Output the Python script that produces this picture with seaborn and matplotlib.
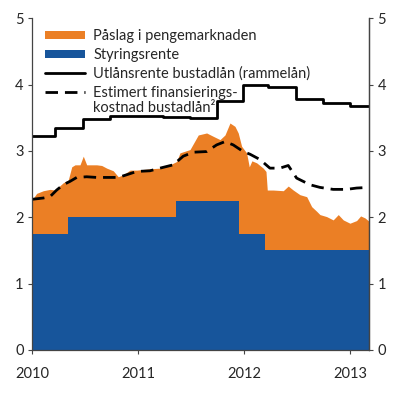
import matplotlib
matplotlib.use("Agg")
import matplotlib.pyplot as plt
import seaborn as sns
import numpy as np
import pandas as pd
from matplotlib.patches import Patch
from matplotlib.lines import Line2D

# ---- data (decimal years) ----
nibor_x = [2010.000, 2010.044, 2010.107, 2010.170, 2010.217, 2010.295, 2010.342, 2010.375,
           2010.406, 2010.453, 2010.484, 2010.516, 2010.563, 2010.610, 2010.658, 2010.705,
           2010.767, 2010.814, 2010.861, 2010.925, 2010.988, 2011.050, 2011.113, 2011.208,
           2011.302, 2011.365, 2011.396, 2011.491, 2011.569, 2011.648, 2011.710, 2011.774,
           2011.821, 2011.868, 2011.915, 2011.946, 2011.978, 2012.025, 2012.050, 2012.075,
           2012.120, 2012.182, 2012.208, 2012.220, 2012.276, 2012.371, 2012.418, 2012.465,
           2012.528, 2012.592, 2012.639, 2012.686, 2012.717, 2012.780, 2012.842, 2012.890,
           2012.937, 2013.000, 2013.063, 2013.101, 2013.142, 2013.180]
nibor_y = [2.26, 2.36, 2.40, 2.42, 2.41, 2.52, 2.56, 2.76,
           2.79, 2.79, 2.92, 2.79, 2.79, 2.79, 2.78, 2.74,
           2.70, 2.61, 2.64, 2.71, 2.71, 2.72, 2.73, 2.74,
           2.79, 2.84, 2.97, 3.02, 3.24, 3.27, 3.22, 3.17,
           3.24, 3.42, 3.37, 3.27, 3.07, 2.97, 2.76, 2.85,
           2.82, 2.74, 2.69, 2.41, 2.41, 2.40, 2.47, 2.41,
           2.34, 2.31, 2.16, 2.09, 2.04, 2.01, 1.96, 2.04,
           1.96, 1.91, 1.95, 2.02, 1.99, 1.94]

policy_x = [2010.00, 2010.34, 2011.36, 2011.95, 2012.20, 2013.18]
policy_y = [1.75, 2.00, 2.25, 1.75, 1.50, 1.50]

lending_x = [2010.000, 2010.217, 2010.484, 2010.736, 2010.988, 2011.236, 2011.490,
             2011.742, 2011.990, 2012.226, 2012.490, 2012.742, 2013.000, 2013.180]
lending_y = [3.22, 3.35, 3.48, 3.53, 3.52, 3.51, 3.50,
             3.745, 4.00, 3.97, 3.78, 3.72, 3.68, 3.68]

funding_x = [2010.000, 2010.107, 2010.170, 2010.233, 2010.295, 2010.358, 2010.422, 2010.516,
             2010.610, 2010.705, 2010.814, 2010.893, 2010.988, 2011.113, 2011.208, 2011.333,
             2011.427, 2011.522, 2011.648, 2011.742, 2011.821, 2011.899, 2011.993, 2012.057,
             2012.151, 2012.245, 2012.340, 2012.418, 2012.497, 2012.623, 2012.717, 2012.842,
             2012.969, 2013.063, 2013.180]
funding_y = [2.27, 2.29, 2.31, 2.41, 2.49, 2.54, 2.60, 2.61,
             2.60, 2.60, 2.60, 2.64, 2.69, 2.70, 2.74, 2.79,
             2.92, 2.98, 2.99, 3.09, 3.14, 3.09, 2.99, 2.95,
             2.87, 2.74, 2.74, 2.78, 2.59, 2.49, 2.45, 2.42,
             2.42, 2.44, 2.45]

year_ticks = [2010, 2011, 2012, 2013]
year_labels = ["2010", "2011", "2012", "2013"]
y_ticks = [0, 1, 2, 3, 4, 5]

labels = ["Påslag i pengemarknaden", "Styringsrente",
          "Utlånsrente bustadlån (rammelån)",
          "Estimert finansierings-"]
label_cont = "kostnad bustadlån\u00b2"

ORANGE = "#EB7F25"
BLUE = "#17559B"
SPINE = "#444444"

sns.set_theme(style="white")
plt.rcParams["font.family"] = ["Lato", "DejaVu Sans"]

fig = plt.figure(figsize=(4.0, 3.95), dpi=100)
ax = fig.add_axes([0.08, 0.114, 0.8425, 0.84])

ax.fill_between(nibor_x, 0, nibor_y, color=ORANGE, linewidth=0)
ax.fill_between(policy_x, 0, policy_y, step="post", color=BLUE, linewidth=0)

sns.lineplot(x=lending_x, y=lending_y, ax=ax, color="black", linewidth=2.0,
             drawstyle="steps-post", estimator=None, sort=False)
sns.lineplot(x=funding_x, y=funding_y, ax=ax, color="black", linewidth=2.0,
             estimator=None, sort=False, dashes=False)
ax.lines[-1].set_dashes([4.5, 2.5])

ax.set_xlim(2010.0, 2013.18)
ax.set_ylim(0, 5)
ax.set_xticks(year_ticks)
ax.set_xticklabels(year_labels)
ax.set_yticks(y_ticks)
ax.set_xlabel("")
ax.set_ylabel("")

for s in ["left", "right", "bottom"]:
    ax.spines[s].set_visible(True)
    ax.spines[s].set_color(SPINE)
    ax.spines[s].set_linewidth(0.9)
ax.spines["top"].set_visible(False)

ax.tick_params(axis="y", which="both", direction="out", length=3, width=0.8,
               color=SPINE, labelsize=10.5, pad=3, left=True)
ax.tick_params(axis="x", which="both", direction="out", length=3, width=0.8,
               color=SPINE, labelsize=10.5, pad=9, bottom=True)

ax2 = ax.twinx()
ax2.set_ylim(0, 5)
ax2.set_yticks(y_ticks)
for s in ["left", "top", "bottom"]:
    ax2.spines[s].set_visible(False)
ax2.spines["right"].set_color(SPINE)
ax2.spines["right"].set_linewidth(0.9)
ax2.tick_params(axis="y", direction="out", length=3, width=0.8, color=SPINE,
                labelsize=10.5, pad=3, right=True)
ax2.grid(False)
ax.grid(False)

handles = [Patch(facecolor=ORANGE, edgecolor="none"),
           Patch(facecolor=BLUE, edgecolor="none"),
           Line2D([0], [0], color="black", linewidth=2.0),
           Line2D([0], [0], color="black", linewidth=2.0, dashes=[4.5, 2.5])]
leg = ax2.legend(handles, labels, loc="upper left", frameon=False, fontsize=10.5,
                 handlelength=2.7, handleheight=0.45, handletextpad=0.6,
                 labelspacing=0.33, borderaxespad=0.0, bbox_to_anchor=(0.022, 0.985))

fig.canvas.draw()
t4 = leg.get_texts()[3]
bb = t4.get_window_extent()
W, H = fig.get_size_inches() * fig.dpi
fig.text(bb.x0 / W, bb.y0 / H - 15.5 / H, label_cont,
         fontsize=10.5, va="bottom", ha="left", color=t4.get_color())

fig.savefig("out.png", dpi=100)
